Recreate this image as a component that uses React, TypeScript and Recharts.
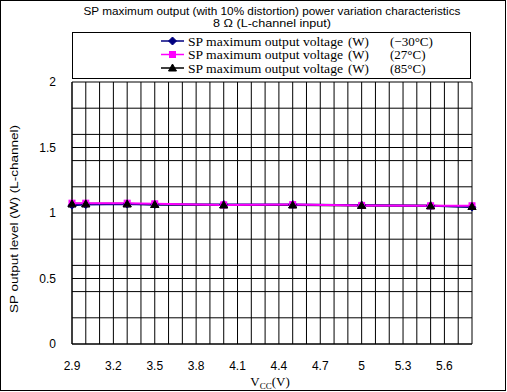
import React from 'react';
import { LineChart, Line, XAxis, YAxis, CartesianGrid } from 'recharts';

const vcc = [2.9, 3.0, 3.3, 3.5, 4.0, 4.5, 5.0, 5.5, 5.8];
const minus30 = [1.06, 1.065, 1.068, 1.065, 1.065, 1.065, 1.06, 1.055, 1.045];
const plus27 = [1.075, 1.075, 1.075, 1.07, 1.062, 1.064, 1.058, 1.055, 1.055];
const plus85 = [1.07, 1.07, 1.07, 1.065, 1.062, 1.062, 1.058, 1.055, 1.05];

const gridX = [2.9, 3.0, 3.1, 3.2, 3.3, 3.4, 3.5, 3.6, 3.7, 3.8, 3.9, 4.0, 4.1, 4.2, 4.3, 4.4, 4.5, 4.6, 4.7, 4.8, 4.9, 5.0, 5.1, 5.2, 5.3, 5.4, 5.5, 5.6, 5.7, 5.8];
const labelX = [2.9, 3.2, 3.5, 3.8, 4.1, 4.4, 4.7, 5.0, 5.3, 5.6];
const gridY = [0, 0.2, 0.4, 0.5, 0.6, 0.8, 1, 1.2, 1.4, 1.5, 1.6, 1.8, 2];
const labelY = [0, 0.5, 1, 1.5, 2];

const titleLine1 = 'SP maximum output (with 10% distortion) power variation characteristics';
const titleLine2 = '8 Ω (L-channel input)';
const yTitle = 'SP output level  (W) (L-channel)';
const seriesName = 'SP maximum output voltage';
const seriesUnit = '(W)';
const seriesTemps = ['(−30°C)', '(27°C)', '(85°C)'];
const seriesKeys = ['a', 'b', 'c'];
const seriesColors = ['#000080', '#ff00ff', '#000000'];
const seriesShapes = ['diamond', 'square', 'triangle'];

const data = vcc.map((v, i) => ({ v, a: minus30[i], b: plus27[i], c: plus85[i] }));

const near = (a: number, list: number[]) => list.some((x) => Math.abs(x - a) < 1e-6);

function Marker({ cx, cy, shape, color }: { cx: number; cy: number; shape: string; color: string }) {
  if (cx == null || cy == null) return null;
  if (shape === 'diamond') {
    return <polygon points={`${cx},${cy - 4} ${cx + 4},${cy} ${cx},${cy + 4} ${cx - 4},${cy}`} fill={color} stroke={color} />;
  }
  if (shape === 'square') {
    return <rect x={cx - 3} y={cy - 3} width={6} height={6} fill={color} stroke={color} />;
  }
  return <polygon points={`${cx},${cy - 4} ${cx + 4},${cy + 3} ${cx - 4},${cy + 3}`} fill={color} stroke={color} />;
}

const XTick = (props: any) => {
  const { x, y, payload } = props;
  if (!near(payload.value, labelX)) return <g />;
  return (
    <text x={x} y={y + 18} textAnchor="middle" fontSize={12} fontFamily="'Liberation Sans', Arial, sans-serif" fill="#000">
      {String(payload.value)}
    </text>
  );
};

const YTick = (props: any) => {
  const { x, y, payload } = props;
  if (!near(payload.value, labelY)) return <g />;
  return (
    <text x={x - 8} y={y + 4} textAnchor="end" fontSize={12} fontFamily="'Liberation Sans', Arial, sans-serif" fill="#000">
      {String(payload.value)}
    </text>
  );
};

// drawing order: 85°C line underneath, then -30°C, then 27°C; markers of 85°C on top
const lineOrder = [2, 0, 1];

export default function App() {
  const legendRows = [41, 54.5, 68];
  return (
    <div style={{ position: 'absolute', left: 0, top: 0, width: 507, height: 392, background: '#fff' }}>
      <LineChart width={505} height={390} data={data} margin={{ top: 82, right: 33, bottom: 0, left: 0 }}>
        <CartesianGrid stroke="#000" strokeWidth={1} vertical horizontal />
        <XAxis
          dataKey="v"
          type="number"
          domain={[2.9, 5.8]}
          ticks={gridX}
          interval={0}
          height={46}
          tickLine={false}
          axisLine={{ stroke: '#000' }}
          tick={<XTick />}
        />
        <YAxis
          type="number"
          domain={[0, 2]}
          ticks={gridY}
          interval={0}
          width={72}
          tickLine={false}
          axisLine={{ stroke: '#000' }}
          tick={<YTick />}
        />
        {lineOrder.map((i) => {
          const k = seriesKeys[i];
          return (
            <Line
              key={k}
              dataKey={k}
              type="linear"
              stroke={seriesColors[i]}
              strokeWidth={2}
              isAnimationActive={false}
              dot={(p: any) => <Marker key={`${k}-${p.index}`} cx={p.cx} cy={p.cy} shape={seriesShapes[i]} color={seriesColors[i]} />}
              activeDot={false}
            />
          );
        })}
        <Line
          key="c-markers"
          dataKey="c"
          type="linear"
          stroke="none"
          isAnimationActive={false}
          legendType="none"
          dot={(p: any) => <Marker key={`cm-${p.index}`} cx={p.cx} cy={p.cy} shape={seriesShapes[2]} color={seriesColors[2]} />}
          activeDot={false}
        />
      </LineChart>
      <svg width={507} height={392} style={{ position: 'absolute', left: 0, top: 0, pointerEvents: 'none' }}>
        <rect x={0.5} y={0.5} width={505} height={390} fill="none" stroke="#000" strokeWidth={1} />
        <text x={272} y={15} textAnchor="middle" fontSize={10.5} fontFamily="'Liberation Sans', Arial, sans-serif" fill="#000" textLength={377} lengthAdjust="spacingAndGlyphs">
          {titleLine1}
        </text>
        <text x={272} y={27} textAnchor="middle" fontSize={10.5} fontFamily="'Liberation Sans', Arial, sans-serif" fill="#000" textLength={118} lengthAdjust="spacingAndGlyphs">
          {titleLine2}
        </text>
        <rect x={72.5} y={32.5} width={398} height={46} fill="#fff" stroke="#000" strokeWidth={1} />
        {legendRows.map((ry, i) => (
          <g key={i}>
            <line x1={161} x2={184} y1={ry} y2={ry} stroke={seriesColors[i]} strokeWidth={1.5} />
            <Marker cx={172.5} cy={ry} shape={seriesShapes[i]} color={seriesColors[i]} />
            <text x={188} y={ry + 4.5} fontSize={13} fontFamily="'Liberation Serif', 'Times New Roman', serif" fill="#000" textLength={155} lengthAdjust="spacingAndGlyphs">
              {seriesName}
            </text>
            <text x={348} y={ry + 4.5} fontSize={13} fontFamily="'Liberation Serif', 'Times New Roman', serif" fill="#000">
              {seriesUnit}
            </text>
            <text x={390} y={ry + 4.5} fontSize={13} fontFamily="'Liberation Serif', 'Times New Roman', serif" fill="#000">
              {seriesTemps[i]}
            </text>
          </g>
        ))}
        <text
          x={0}
          y={0}
          transform="translate(18,219) rotate(-90)"
          textAnchor="middle"
          fontSize={10.5}
          fontFamily="'Liberation Sans', Arial, sans-serif"
          fill="#000"
          textLength={188}
          lengthAdjust="spacingAndGlyphs"
        >
          {yTitle}
        </text>
        <text x={270} y={386} textAnchor="middle" fontSize={13} fontFamily="'Liberation Serif', 'Times New Roman', serif" fill="#000">
          V<tspan fontSize={9} dy={3}>CC</tspan>
          <tspan dy={-3}>(V)</tspan>
        </text>
      </svg>
    </div>
  );
}
